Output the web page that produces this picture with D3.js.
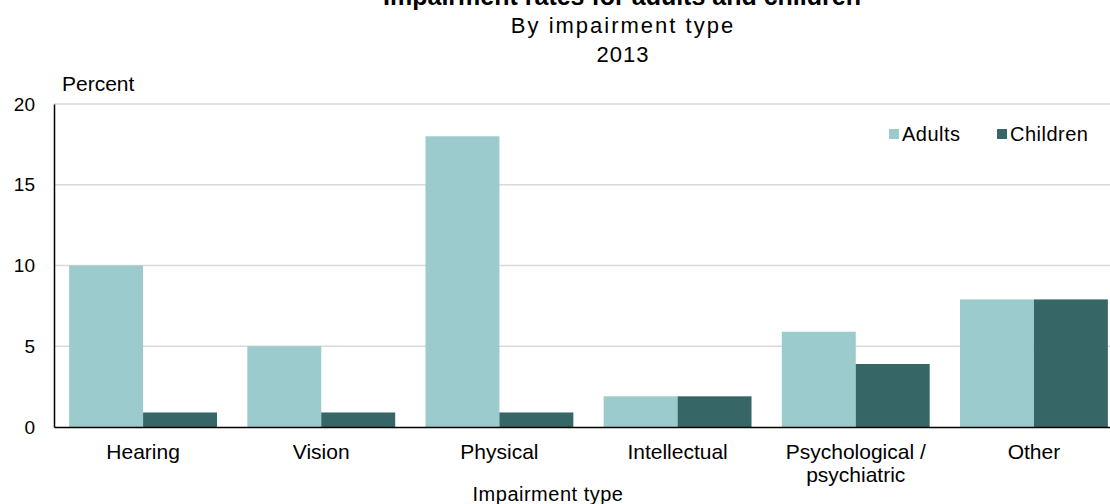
<!DOCTYPE html>
<html>
<head>
<meta charset="utf-8">
<script src="https://cdn.jsdelivr.net/npm/d3@7"></script>
<style>
  html, body { margin: 0; padding: 0; background: #fff; }
  svg { display: block; font-family: "Liberation Sans", Arial, sans-serif; }
</style>
</head>
<body>
<svg id="chart" width="1110" height="504"></svg>
<script>
// Impairment rates (percent), 2013
const categories = ["Hearing", "Vision", "Physical", "Intellectual", "Psychological / psychiatric", "Other"];
const categoryLines = [["Hearing"], ["Vision"], ["Physical"], ["Intellectual"], ["Psychological /", "psychiatric"], ["Other"]];
const seriesNames = ["Adults", "Children"];
const adults = [10, 5, 18, 1.9, 5.9, 7.9];
const children = [0.9, 0.9, 0.9, 1.9, 3.9, 7.9];
const yTicks = [0, 5, 10, 15, 20];
const colors = ["#9bcbcc", "#366666"];

const svg = d3.select("#chart");
const plot = { left: 54, right: 1123, top: 104, bottom: 427 };

const x0 = d3.scaleBand().domain(categories).range([plot.left, plot.right]).paddingInner(0.17).paddingOuter(0.085);
const x1 = d3.scaleBand().domain(seriesNames).range([0, x0.bandwidth()]);
const y = d3.scaleLinear().domain([0, 20]).range([plot.bottom, plot.top]);
const color = d3.scaleOrdinal().domain(seriesNames).range(colors);

// Titles
svg.append("text").attr("x", 622).attr("y", 5).attr("text-anchor", "middle")
  .attr("font-size", 25).attr("font-weight", "bold").attr("fill", "#000")
  .text("Impairment rates for adults and children");
svg.append("text").attr("x", 623).attr("y", 33).attr("text-anchor", "middle")
  .attr("font-size", 22).attr("letter-spacing", 2).attr("fill", "#000")
  .text("By impairment type");
svg.append("text").attr("x", 623).attr("y", 62).attr("text-anchor", "middle")
  .attr("font-size", 22).attr("letter-spacing", 1).attr("fill", "#000")
  .text("2013");

// Gridlines
svg.append("g").selectAll("line").data(yTicks.filter(d => d > 0)).join("line")
  .attr("x1", plot.left).attr("x2", plot.right)
  .attr("y1", d => y(d)).attr("y2", d => y(d))
  .attr("stroke", "#d9d9d9").attr("stroke-width", 1.5);

// Bars
const rows = categories.map((c, i) => ({ cat: c, values: [adults[i], children[i]] }));
svg.append("g").selectAll("g").data(rows).join("g")
  .attr("transform", d => `translate(${x0(d.cat)},0)`)
  .selectAll("rect").data(d => d.values.map((v, j) => ({ key: seriesNames[j], v })))
  .join("rect")
  .attr("x", d => x1(d.key))
  .attr("width", x1.bandwidth())
  .attr("y", d => y(d.v))
  .attr("height", d => y(0) - y(d.v))
  .attr("fill", d => color(d.key));

// Y axis
const yAxis = svg.append("g").attr("transform", `translate(${plot.left},0)`)
  .call(d3.axisLeft(y).tickValues(yTicks).tickSize(0).tickPadding(19));
yAxis.select(".domain").attr("stroke", "#000").attr("stroke-width", 1.5);
yAxis.selectAll("text").attr("font-size", 19).attr("fill", "#000")
  .attr("font-family", "'Liberation Sans', Arial, sans-serif");

// X axis
const xAxis = svg.append("g").attr("transform", `translate(0,${plot.bottom})`)
  .call(d3.axisBottom(x0).tickSize(0).tickFormat(""));
xAxis.select(".domain").attr("stroke", "#000").attr("stroke-width", 1.5);

const xl = svg.append("g").selectAll("text").data(categories).join("text")
  .attr("x", d => x0(d) + x0.bandwidth() / 2)
  .attr("y", 459)
  .attr("text-anchor", "middle")
  .attr("font-size", 21).attr("fill", "#000");
xl.each(function(d, i) {
  d3.select(this).selectAll("tspan").data(categoryLines[i]).join("tspan")
    .attr("x", x0(d) + x0.bandwidth() / 2)
    .attr("dy", (t, k) => k === 0 ? 0 : 23)
    .text(t => t);
});

// Axis titles
svg.append("text").attr("x", 62).attr("y", 91).attr("font-size", 21).attr("fill", "#000").text("Percent");
svg.append("text").attr("x", 548).attr("y", 501).attr("text-anchor", "middle")
  .attr("font-size", 20).attr("letter-spacing", 0.5).attr("fill", "#000").text("Impairment type");

// Legend
const legend = svg.append("g");
const legendX = [889, 997];
seriesNames.forEach((s, i) => {
  legend.append("rect").attr("x", legendX[i]).attr("y", 129).attr("width", 10).attr("height", 10).attr("fill", color(s));
  legend.append("text").attr("x", legendX[i] + 13).attr("y", 141).attr("font-size", 20).attr("letter-spacing", 0.5).attr("fill", "#000").text(s);
});
</script>
</body>
</html>
